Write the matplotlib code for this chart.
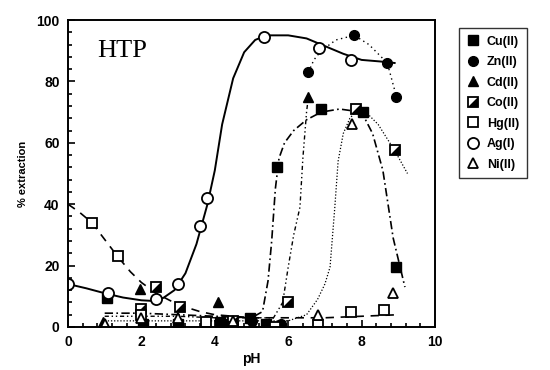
import matplotlib
matplotlib.use("Agg")
import matplotlib.pyplot as plt
from matplotlib.path import Path
from matplotlib.legend_handler import HandlerTuple
from matplotlib.ticker import MultipleLocator

# ---------------- data ----------------
cu_ph = [1.05, 2.05, 3.0, 4.15, 4.95, 5.4, 5.7, 6.9, 8.05, 8.95]
cu_y = [9.5, 1.0, 1.0, 1.5, 3.0, 1.0, 52, 71, 70, 19.5]

zn_ph = [3.0, 4.3, 5.0, 5.8, 6.55, 7.8, 8.7, 8.95]
zn_y = [1.0, 1.0, 2.0, 1.0, 83, 95, 86, 75]

cd_ph = [0.95, 1.95, 3.0, 4.1, 5.0, 6.55]
cd_y = [1.5, 12.5, 1.0, 8.0, 1.0, 75]

co_ph = [2.0, 2.4, 3.05, 4.5, 6.0, 7.85, 8.9]
co_y = [6.0, 13, 6.5, 2.0, 8.0, 71, 57.5]

hg_ph = [0.65, 1.35, 2.0, 3.75, 4.5, 5.65, 6.8, 7.7, 8.6]
hg_y = [34, 23, 4.0, 1.5, 0.0, 0.0, 0.5, 5.0, 5.5]

ag_ph = [0.0, 1.1, 2.4, 3.0, 3.6, 3.8, 5.35, 6.85, 7.7]
ag_y = [14, 11, 9, 14, 33, 42, 94.5, 91, 87]

ni_ph = [1.0, 2.0, 3.0, 4.5, 6.8, 7.75, 8.85]
ni_y = [1.0, 3.0, 3.0, 2.0, 4.0, 66, 11]

# fitted curves
ag_fit_ph = [0, 0.5, 1.0, 1.5, 2.0, 2.3, 2.6, 2.9, 3.2, 3.5, 3.8, 4.0, 4.2, 4.5,
             4.8, 5.1, 5.4, 6.0, 6.5, 7.0, 7.5, 8.0, 8.5, 8.9]
ag_fit_y = [14, 12.6, 11, 9.6, 8.7, 8.5, 9.5, 12, 17.5, 27, 40, 51, 66, 81,
            89.5, 93.5, 95, 95, 94, 91.5, 89, 87, 86.5, 86]

hg_fit_ph = [0, 0.3, 0.65, 1.0, 1.35, 1.7, 2.0, 2.4, 2.8, 3.2, 3.6, 4.0, 4.5,
             5.0, 6.0, 7.0, 8.0, 9.0]
hg_fit_y = [40, 37.5, 34, 28.5, 23, 18, 14.5, 11, 8.5, 6.5, 5, 4, 3.5,
            3, 3, 3, 3.5, 4]

cu_fit_ph = [1.0, 2.0, 3.0, 4.0, 5.0, 5.3, 5.45, 5.55, 5.65, 5.75, 5.9, 6.15,
             6.5, 6.9, 7.4, 8.0, 8.3, 8.58, 8.86, 9.0, 9.18]
cu_fit_y = [4.5, 4.5, 4.0, 3.5, 3.0, 5, 15, 28, 45, 55, 60, 64,
            67.5, 70, 71, 70, 63, 51, 29, 22, 13]

cd_fit_ph = [1.0, 2.0, 3.0, 4.0, 5.0, 5.6, 5.85, 6.0, 6.15, 6.32, 6.4, 6.5, 6.55]
cd_fit_y = [3.5, 3.5, 3.5, 3.0, 3.0, 3.0, 8, 19.5, 30, 39, 55, 70, 75]

zn_fit_ph = [6.55, 6.7, 6.9, 7.3, 7.8, 8.2, 8.7, 8.95]
zn_fit_y = [83, 87, 90, 93.5, 95, 92, 86, 75]

co_fit_ph = [1.0, 2.0, 3.0, 4.0, 5.0, 6.0, 6.5, 6.8, 7.0, 7.14, 7.27, 7.36,
             7.5, 7.68, 7.87, 8.2, 8.45, 8.9, 9.25]
co_fit_y = [2, 2, 2, 2, 2, 2, 4, 9, 14, 19.5, 39, 54,
            63, 68, 70.5, 69, 66, 57.5, 50]

x_ticks = [0, 2, 4, 6, 8, 10]
y_ticks = [0, 20, 40, 60, 80, 100]

# ---------------- figure ----------------
plt.rcParams['font.family'] = ['Liberation Sans', 'DejaVu Sans']
fig = plt.figure(figsize=(5.5, 3.7), dpi=100)
ax = fig.add_axes([68/550, 1-327/370, (435-68)/550, (327-20)/370])

k = 'black'
ax.plot(ag_fit_ph, ag_fit_y, '-', color=k, lw=1.4)
ax.plot(hg_fit_ph, hg_fit_y, color=k, lw=1.2, dashes=(5, 4))
ax.plot(cu_fit_ph, cu_fit_y, color=k, lw=1.2, dashes=(5, 2, 1, 2))
ax.plot(cd_fit_ph, cd_fit_y, color=k, lw=1.0, dashes=(3, 2, 1, 2, 1, 2))
ax.plot(zn_fit_ph, zn_fit_y, color=k, lw=1.0, dashes=(1, 2.5))
ax.plot(co_fit_ph, co_fit_y, color=k, lw=0.9, dashes=(1, 1.5))

h_cu, = ax.plot(cu_ph, cu_y, 's', color=k, ms=6.5, ls='none')
h_zn, = ax.plot(zn_ph, zn_y, 'o', color=k, ms=7, ls='none')
h_cd, = ax.plot(cd_ph, cd_y, '^', color=k, ms=7, ls='none')
tri = Path([(-1, -1), (1, -1), (1, 1), (-1, -1)],
           [Path.MOVETO, Path.LINETO, Path.LINETO, Path.CLOSEPOLY])
h_co1, = ax.plot(co_ph, co_y, 's', mfc='white', mec=k, mew=1.3, ms=6.5, ls='none')
h_co2, = ax.plot(co_ph, co_y, marker=tri, color=k, ms=5.5, ls='none')
h_hg, = ax.plot(hg_ph, hg_y, 's', mfc='white', mec=k, mew=1.3, ms=6.5, ls='none')
h_ag, = ax.plot(ag_ph, ag_y, 'o', mfc='white', mec=k, mew=1.3, ms=8, ls='none')
h_ni, = ax.plot(ni_ph, ni_y, '^', mfc='white', mec=k, mew=1.3, ms=7, ls='none')

ax.set_xlim(0, 10)
ax.set_ylim(0, 100)
ax.set_xticks(x_ticks)
ax.set_yticks(y_ticks)
ax.xaxis.set_minor_locator(MultipleLocator(0.4))
ax.yaxis.set_minor_locator(MultipleLocator(4))
ax.tick_params(which='both', direction='in', top=False, right=False, width=1.2)
ax.tick_params(which='major', length=5, labelsize=10, pad=6)
ax.tick_params(which='minor', length=3)
for lab in ax.get_xticklabels() + ax.get_yticklabels():
    lab.set_fontweight('bold')
for s in ax.spines.values():
    s.set_linewidth(1.4)

ax.set_xlabel('pH', fontsize=10, fontweight='bold', labelpad=2)
ax.set_ylabel('% extraction', fontsize=8, fontweight='bold', labelpad=6)

ax.text(0.08, 0.90, 'HTP', transform=ax.transAxes, fontsize=19,
        family='Liberation Serif', va='center', ha='left')

handles = [h_cu, h_zn, h_cd, (h_co1, h_co2), h_hg, h_ag, h_ni]
labels = ['Cu(II)', 'Zn(II)', 'Cd(II)', 'Co(II)', 'Hg(II)', 'Ag(I)', 'Ni(II)']
leg = fig.legend(handles, labels, loc='upper left',
                 bbox_to_anchor=(453/550, 1-22/370),
                 handler_map={tuple: HandlerTuple(ndivide=1, pad=0)},
                 prop={'weight': 'bold', 'size': 9},
                 frameon=True, fancybox=False, edgecolor='black',
                 handlelength=1.0, handletextpad=0.6, labelspacing=0.68,
                 borderpad=0.6, markerscale=1.0)
leg.get_frame().set_linewidth(1.0)

fig.savefig('out.png', dpi=100)
